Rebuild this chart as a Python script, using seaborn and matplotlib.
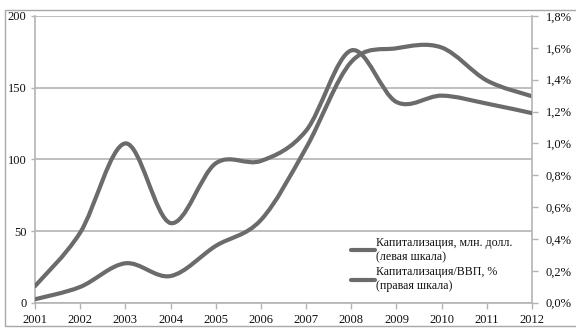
import numpy as np
import matplotlib
matplotlib.use("Agg")
import matplotlib.pyplot as plt
from matplotlib.path import Path
from matplotlib.patches import PathPatch, Rectangle
from matplotlib.lines import Line2D
import seaborn as sns

# ---- data ----
years = [2001, 2002, 2003, 2004, 2005, 2006, 2007, 2008, 2009, 2010, 2011, 2012]
cap_mln = [2.4, 11, 27.5, 18.6, 39.6, 57.7, 108, 168, 177.5, 178, 155, 144]          # left scale
cap_gdp = [0.104, 0.44, 1.00, 0.50, 0.875, 0.89, 1.08, 1.584, 1.26, 1.30, 1.25, 1.19]  # right scale, %
left_ticks = [0, 50, 100, 150, 200]
right_ticks = [0.0, 0.2, 0.4, 0.6, 0.8, 1.0, 1.2, 1.4, 1.6, 1.8]
label_cap = "Капитализация, млн. долл.\n(левая шкала)"
label_gdp = "Капитализация/ВВП, %\n(правая шкала)"

LINE_COLOR = "#6b6b6b"
GRID_COLOR = "#b4b4b4"
LW = 3.0

sns.set_theme(style="white")
plt.rcParams["font.family"] = ["Liberation Serif", "DejaVu Serif"]


def smooth_path(xs, ys):
    """Excel-style smoothed line: cubic Bezier through every data point."""
    pts = np.column_stack([xs, ys]).astype(float)
    n = len(pts)
    verts = [pts[0]]
    codes = [Path.MOVETO]
    for i in range(n - 1):
        p0 = pts[i - 1] if i > 0 else pts[i]
        p1 = pts[i]
        p2 = pts[i + 1]
        p3 = pts[i + 2] if i + 2 < n else pts[i + 1]
        c1 = p1 + (p2 - p0) / 6.0
        c2 = p2 - (p3 - p1) / 6.0
        verts += [c1, c2, p2]
        codes += [Path.CURVE4] * 3
    return Path(verts, codes)


fig = plt.figure(figsize=(5.76, 3.30), dpi=100)
ax = fig.add_axes([35 / 576, 1 - 302.7 / 330, (532 - 35) / 576, (302.7 - 16) / 330])
ax2 = ax.twinx()

# figure frame
fig.patches.append(Rectangle((5 / 576, 1 - 326 / 330), 1.2, (326 - 9.5) / 330,
                             transform=fig.transFigure, fill=False,
                             edgecolor="#a8a8a8", linewidth=1.0, zorder=0))

ax.set_xlim(2001, 2012)
ax.set_ylim(0, 200)
ax2.set_ylim(0, 1.8)

for v in left_ticks:
    ax.axhline(v, color=GRID_COLOR, linewidth=1.2, zorder=1)

ax.add_patch(PathPatch(smooth_path(years, cap_mln), fill=False,
                       edgecolor=LINE_COLOR, linewidth=LW, capstyle="round",
                       joinstyle="round", zorder=3))
ax2.add_patch(PathPatch(smooth_path(years, cap_gdp), fill=False,
                        edgecolor=LINE_COLOR, linewidth=LW, capstyle="round",
                        joinstyle="round", zorder=3))

ax.set_xticks(years)
ax.set_xticklabels([str(y) for y in years], fontsize=9)
ax.set_yticks(left_ticks)
ax.set_yticklabels([str(v) for v in left_ticks], fontsize=9)
ax2.set_yticks(right_ticks)
ax2.set_yticklabels([f"{v:.1f}%".replace(".", ",") for v in right_ticks], fontsize=9)

for a in (ax, ax2):
    for s in a.spines.values():
        s.set_visible(False)
ax.spines["left"].set_visible(True)
ax.spines["left"].set_color(GRID_COLOR)
ax.spines["left"].set_linewidth(1.2)
ax.spines["bottom"].set_visible(True)
ax.spines["bottom"].set_color(GRID_COLOR)
ax.spines["bottom"].set_linewidth(1.2)
ax2.spines["right"].set_visible(True)
ax2.spines["right"].set_color(GRID_COLOR)
ax2.spines["right"].set_linewidth(1.2)

ax.tick_params(axis="x", direction="out", length=4, width=1, color=GRID_COLOR,
               pad=4, bottom=True, labelcolor="#111111")
ax.tick_params(axis="y", direction="out", length=3, width=1, color=GRID_COLOR,
               pad=3, left=True, labelcolor="#111111")
ax2.tick_params(axis="y", direction="out", length=4, width=1, color=GRID_COLOR,
                pad=6, right=True, labelcolor="#111111")

handles = [Line2D([], [], color=LINE_COLOR, linewidth=LW),
           Line2D([], [], color=LINE_COLOR, linewidth=LW)]
leg = ax2.legend(handles, [label_cap, label_gdp], loc="lower right",
                 bbox_to_anchor=(0.971, 0.02), frameon=False, fontsize=8.6,
                 handlelength=2.0, handletextpad=0.1, labelspacing=0.3,
                 borderaxespad=0.0)
for t in leg.get_texts():
    t.set_color("#111111")

fig.savefig("out.png", dpi=100, facecolor="white")
